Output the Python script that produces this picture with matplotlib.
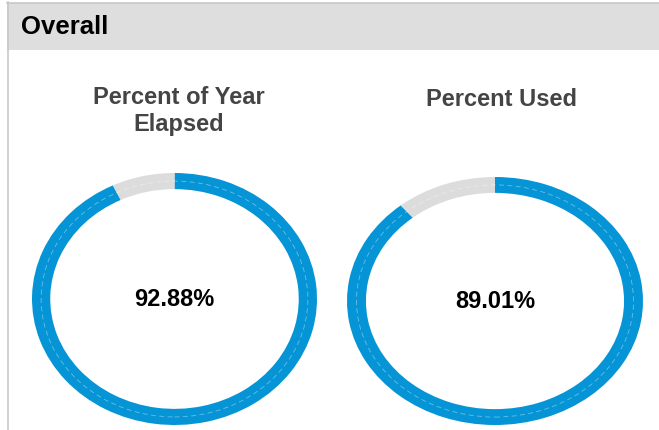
import matplotlib
matplotlib.use("Agg")
import matplotlib.pyplot as plt
from matplotlib.patches import Rectangle, Circle
from matplotlib.lines import Line2D

# datos
header = "Overall"
titles = ["Percent of Year\nElapsed", "Percent Used"]
percents = [92.88, 89.01]

W, H = 659, 430
blue = "#0594d5"
gris = "#dcdcdc"

plt.rcParams['font.family'] = ['Liberation Sans', 'DejaVu Sans']

fig = plt.figure(figsize=(W / 100, H / 100), dpi=100)
fig.patch.set_facecolor("white")


def fx(px):
    return px / W


def fy(py):
    return 1 - py / H


# barra de cabecera
fig.add_artist(Rectangle((fx(7), fy(50)), fx(W - 7), 47 / H,
                         transform=fig.transFigure, fc="#dedede", ec="none"))
fig.add_artist(Line2D([fx(7), 1], [fy(2.5), fy(2.5)], transform=fig.transFigure,
                      color="#c8c8c8", lw=1.2))
fig.add_artist(Line2D([fx(7.5), fx(7.5)], [fy(2), 0], transform=fig.transFigure,
                      color="#c8c8c8", lw=1.2))
fig.text(fx(21), fy(27), header, fontsize=18.5, fontweight="bold",
         color="black", va="center", ha="left")

# cajas de los anillos (pixeles: x0, y0, x1, y1)
boxes = [(32, 173, 317, 425), (347, 177, 643, 425)]
title_pos = [(179, 111), (501, 99)]
ring_w = 0.128

for i in range(2):
    x0, y0, x1, y1 = boxes[i]
    ax = fig.add_axes([fx(x0), fy(y1), fx(x1 - x0), (y1 - y0) / H])
    p = percents[i]
    ax.pie([p, 100 - p], colors=[blue, gris], startangle=90, counterclock=False,
           radius=1, wedgeprops=dict(width=ring_w, linewidth=0))
    ax.add_patch(Circle((0, 0), 1 - ring_w / 2, fill=False, ec="white",
                        lw=0.6, ls=(0, (6, 4)), alpha=0.4))
    ax.set_aspect("auto")
    ax.set_xlim(-1, 1)
    ax.set_ylim(-1, 1)
    ax.axis("off")
    ax.text(0, 0, f"{p:.2f}%", ha="center", va="center", fontsize=17,
            fontweight="bold", color="black")
    tx, ty = title_pos[i]
    fig.text(fx(tx), fy(ty), titles[i], ha="center", va="center", fontsize=17,
             fontweight="bold", color="#444444", linespacing=1.2)

fig.savefig("out.png", dpi=100)
